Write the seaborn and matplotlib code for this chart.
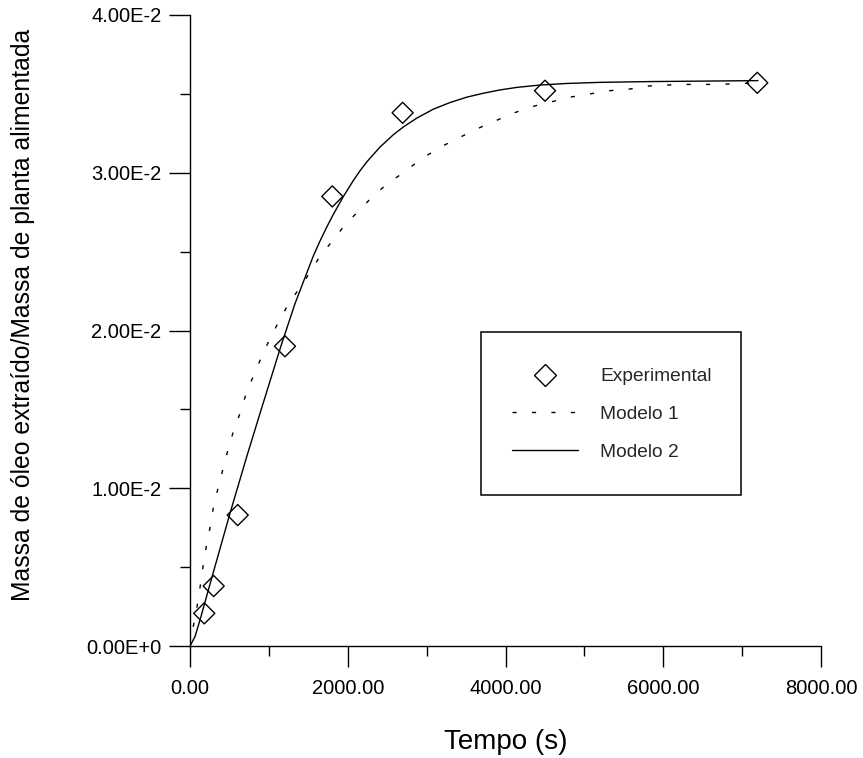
import numpy as np
import pandas as pd
import matplotlib
matplotlib.use("Agg")
import matplotlib.pyplot as plt
import seaborn as sns
from matplotlib.patches import Rectangle
from matplotlib.lines import Line2D
from matplotlib.ticker import FixedLocator

# ---------------- data ----------------
exp_t = [181, 300, 605, 1204, 1804, 2696, 4501, 7192]
exp_y = [0.00207, 0.0038, 0.0083, 0.0190, 0.0285, 0.0338, 0.0352, 0.0357]

m1_t = [0, 42, 93, 127, 161, 203, 254, 295, 355, 415, 478, 549, 634, 710, 803,
        900, 1005, 1119, 1239, 1458, 1648, 1809, 1965, 2143, 2316, 2501, 2704,
        2938, 3204, 3423, 3647, 3876, 4112, 4345, 4586, 4827, 5071, 5316, 5566,
        5819, 6212, 6707, 7200]
m1_y = [0, 0.00125, 0.0026, 0.0037, 0.0049, 0.0062, 0.0075, 0.00875, 0.0100,
        0.01116, 0.01238, 0.01358, 0.01475, 0.01596, 0.01712, 0.01824, 0.0194,
        0.0205, 0.0216, 0.0232, 0.0247, 0.0257, 0.0267, 0.0276, 0.0285, 0.0293,
        0.0300, 0.0309, 0.0317, 0.03225, 0.0328, 0.0333, 0.0338, 0.0342, 0.0345,
        0.0348, 0.0350, 0.0352, 0.0353, 0.0355, 0.0356, 0.0356, 0.0357]

m2_t = [0, 63, 127, 268, 507, 719, 868, 1012, 1150, 1331, 1563, 1648, 1733,
        1817, 1944, 2071, 2155, 2240, 2409, 2578, 2704, 2874, 3085, 3296, 3508,
        3719, 3930, 4142, 4437, 4776, 5198, 5832, 7200]
m2_y = [0, 0.00059, 0.00165, 0.00418, 0.00841, 0.0120, 0.01443, 0.01675,
        0.01897, 0.0217, 0.02472, 0.02567, 0.02655, 0.02736, 0.02849, 0.02951,
        0.03012, 0.03068, 0.03163, 0.03241, 0.0329, 0.03346, 0.03403, 0.03445,
        0.03479, 0.03504, 0.03525, 0.03541, 0.03556, 0.03566, 0.03573, 0.03578,
        0.03584]

x_ticks = [0, 2000, 4000, 6000, 8000]
x_tick_labels = ["0.00", "2000.00", "4000.00", "6000.00", "8000.00"]
x_minor = [1000, 3000, 5000, 7000]
y_ticks = [0.0, 0.01, 0.02, 0.03, 0.04]
y_tick_labels = ["0.00E+0", "1.00E-2", "2.00E-2", "3.00E-2", "4.00E-2"]
y_minor = [0.005, 0.015, 0.025, 0.035]
legend_labels = ["Experimental", "Modelo 1", "Modelo 2"]
x_label = "Tempo (s)"
y_label = "Massa de óleo extraído/Massa de planta alimentada"

df_exp = pd.DataFrame({"t": exp_t, "y": exp_y})
df_m1 = pd.DataFrame({"t": m1_t, "y": m1_y})
df_m2 = pd.DataFrame({"t": m2_t, "y": m2_y})

# ---------------- style ----------------
sns.set_style("ticks")
plt.rcParams["font.family"] = ["Liberation Sans", "DejaVu Sans"]
plt.rcParams["axes.linewidth"] = 1.0

fig = plt.figure(figsize=(8.63, 7.58), dpi=100)
ax = fig.add_axes([190 / 863, 112 / 758, 631 / 863, 631 / 758])

dash_style = (0, (3, 11))
sns.lineplot(data=df_m1, x="t", y="y", ax=ax, color="black", lw=1.0,
             linestyle=dash_style, legend=False, sort=False)
sns.lineplot(data=df_m2, x="t", y="y", ax=ax, color="black", lw=1.0,
             legend=False, sort=False)
sns.scatterplot(data=df_exp, x="t", y="y", ax=ax, marker="D", s=115,
                color="black", facecolor="none", edgecolor="black",
                linewidth=1.0, legend=False, zorder=3)

ax.set_xlim(0, 8000)
ax.set_ylim(0, 0.04)
sns.despine(ax=ax)
for s in ["left", "bottom"]:
    ax.spines[s].set_color("black")
    ax.spines[s].set_linewidth(1.0)

ax.xaxis.set_major_locator(FixedLocator(x_ticks))
ax.set_xticklabels(x_tick_labels)
ax.xaxis.set_minor_locator(FixedLocator(x_minor))
ax.yaxis.set_major_locator(FixedLocator(y_ticks))
ax.set_yticklabels(y_tick_labels)
ax.yaxis.set_minor_locator(FixedLocator(y_minor))

ax.tick_params(axis="both", which="major", direction="out", length=15,
               width=1.0, color="black", labelsize=14.5, labelcolor="black")
ax.tick_params(axis="both", which="minor", direction="out", length=7.2,
               width=1.0, color="black")
ax.tick_params(axis="x", which="major", pad=8.5)
ax.tick_params(axis="y", which="major", pad=5.5)

ax.set_xlabel(x_label, fontsize=20, color="black")
ax.set_ylabel(y_label, fontsize=17.8, color="black")
ax.xaxis.set_label_coords(0.5, -0.131)
ax.yaxis.set_label_coords(-0.245, 0.524)

# legend box
ax.add_patch(Rectangle((291 / 631, 151 / 631), 260 / 631, 163 / 631,
                       transform=ax.transAxes, facecolor="white",
                       edgecolor="black", lw=1.1, zorder=4))
handles = [
    Line2D([], [], marker="D", ls="none", mfc="none", mec="black", ms=10.7, mew=1.0),
    Line2D([], [], color="black", lw=1.0, ls=dash_style),
    Line2D([], [], color="black", lw=1.0),
]
leg = ax.legend(handles, legend_labels, loc="upper left",
                bbox_to_anchor=(322 / 631, 278 / 631), frameon=False,
                fontsize=13.8, handlelength=3.44, handletextpad=1.15,
                labelspacing=1.06, borderpad=0, borderaxespad=0)
leg.set_zorder(5)

fig.savefig("out.png", dpi=100)
